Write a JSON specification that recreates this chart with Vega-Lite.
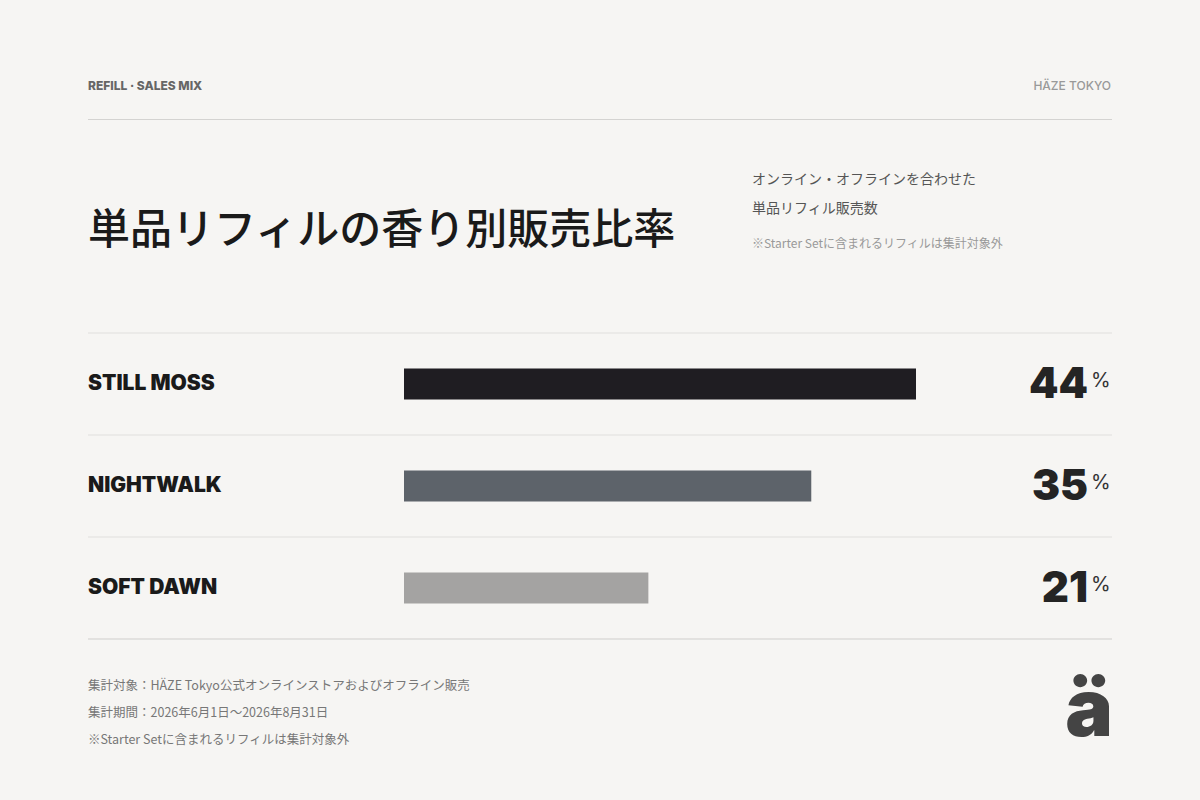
{
  "$schema": "https://vega.github.io/schema/vega-lite/v6.json",
  "width": 1200,
  "height": 800,
  "autosize": {"type": "fit", "contains": "padding"},
  "padding": 0,
  "background": "#f6f5f3",
  "config": {"view": {"stroke": null}},
  "data": {
    "values": [
      {"name": "STILL MOSS", "pct": 44},
      {"name": "NIGHTWALK", "pct": 35},
      {"name": "SOFT DAWN", "pct": 21}
    ]
  },
  "encoding": {
    "y": {
      "field": "name",
      "type": "nominal",
      "sort": null,
      "axis": null,
      "scale": {"type": "band", "domain": ["STILL MOSS", "NIGHTWALK", "SOFT DAWN"], "range": [333, 639], "paddingInner": 0, "paddingOuter": 0}
    }
  },
  "layer": [
    {
      "mark": {"type": "rule", "color": "#e0dfdd", "strokeWidth": 1},
      "encoding": {
        "y": {"field": "name", "type": "nominal", "bandPosition": 0},
        "x": {"value": 88},
        "x2": {"value": 1112}
      }
    },
    {
      "mark": {"type": "rule", "color": "#e0dfdd", "strokeWidth": 1},
      "encoding": {
        "y": {"datum": "SOFT DAWN", "type": "nominal", "bandPosition": 1},
        "x": {"value": 88},
        "x2": {"value": 1112}
      }
    },
    {
      "mark": {"type": "bar", "height": 31},
      "encoding": {
        "x": {"field": "pct", "type": "quantitative", "axis": null, "scale": {"domain": [0, 44], "range": [404, 916], "zero": true, "nice": false}},
        "color": {
          "field": "name",
          "type": "nominal",
          "legend": null,
          "scale": {"domain": ["STILL MOSS", "NIGHTWALK", "SOFT DAWN"], "range": ["#1f1d22", "#5d636a", "#a4a3a2"]}
        }
      }
    },
    {
      "mark": {"type": "text", "align": "left", "baseline": "middle", "font": "Inter", "fontWeight": 900, "fontSize": 21, "color": "#1a1a1a", "dy": 0},
      "encoding": {
        "text": {"field": "name"},
        "x": {"value": 88}
      }
    },
    {
      "mark": {"type": "text", "align": "right", "baseline": "middle", "font": "Inter", "fontWeight": 900, "fontSize": 42, "color": "#242424", "dy": 1},
      "encoding": {
        "text": {"field": "pct", "type": "quantitative"},
        "x": {"value": 1088}
      }
    },
    {
      "mark": {"type": "text", "align": "left", "baseline": "middle", "font": "Inter", "fontWeight": 400, "fontSize": 20, "color": "#333333", "dy": -3, "text": "%"},
      "encoding": {
        "x": {"value": 1091}
      }
    },
    {
      "data": {"values": [{"t": "REFILL · SALES MIX"}]},
      "mark": {"type": "text", "align": "left", "baseline": "middle", "font": "Inter", "fontWeight": 800, "fontSize": 12, "color": "#666666"},
      "encoding": {"text": {"field": "t"}, "x": {"value": 88}, "y": {"value": 86}}
    },
    {
      "data": {"values": [{"t": "HÄZE TOKYO"}]},
      "mark": {"type": "text", "align": "right", "baseline": "middle", "font": "Inter", "fontWeight": 500, "fontSize": 12, "color": "#999999"},
      "encoding": {"text": {"field": "t"}, "x": {"value": 1111}, "y": {"value": 86}}
    },
    {
      "data": {"values": [{"t": "rule"}]},
      "mark": {"type": "rule", "color": "#d4d3d1", "strokeWidth": 1},
      "encoding": {"x": {"value": 88}, "x2": {"value": 1112}, "y": {"value": 119.5}}
    },
    {
      "data": {"values": [{"t": "単品リフィルの香り別販売比率"}]},
      "mark": {"type": "text", "align": "left", "baseline": "middle", "font": "Noto Sans CJK JP", "fontWeight": 500, "fontSize": 42, "color": "#1a1a1a"},
      "encoding": {"text": {"field": "t"}, "x": {"value": 88}, "y": {"value": 231}}
    },
    {
      "data": {"values": [{"t": "オンライン・オフラインを合わせた"}]},
      "mark": {"type": "text", "align": "left", "baseline": "middle", "font": "Noto Sans CJK JP", "fontWeight": 400, "fontSize": 14, "color": "#555555"},
      "encoding": {"text": {"field": "t"}, "x": {"value": 752}, "y": {"value": 180}}
    },
    {
      "data": {"values": [{"t": "単品リフィル販売数"}]},
      "mark": {"type": "text", "align": "left", "baseline": "middle", "font": "Noto Sans CJK JP", "fontWeight": 400, "fontSize": 14, "color": "#555555"},
      "encoding": {"text": {"field": "t"}, "x": {"value": 752}, "y": {"value": 209}}
    },
    {
      "data": {"values": [{"t": "※Starter Setに含まれるリフィルは集計対象外"}]},
      "mark": {"type": "text", "align": "left", "baseline": "middle", "font": "Noto Sans CJK JP", "fontWeight": 400, "fontSize": 12, "color": "#999999"},
      "encoding": {"text": {"field": "t"}, "x": {"value": 752}, "y": {"value": 244}}
    },
    {
      "data": {"values": [{"t": "集計対象：HÄZE Tokyo公式オンラインストアおよびオフライン販売"}]},
      "mark": {"type": "text", "align": "left", "baseline": "middle", "font": "Noto Sans CJK JP", "fontWeight": 400, "fontSize": 12.5, "color": "#777777"},
      "encoding": {"text": {"field": "t"}, "x": {"value": 88}, "y": {"value": 686}}
    },
    {
      "data": {"values": [{"t": "集計期間：2026年6月1日〜2026年8月31日"}]},
      "mark": {"type": "text", "align": "left", "baseline": "middle", "font": "Noto Sans CJK JP", "fontWeight": 400, "fontSize": 12.5, "color": "#777777"},
      "encoding": {"text": {"field": "t"}, "x": {"value": 88}, "y": {"value": 713}}
    },
    {
      "data": {"values": [{"t": "※Starter Setに含まれるリフィルは集計対象外"}]},
      "mark": {"type": "text", "align": "left", "baseline": "middle", "font": "Noto Sans CJK JP", "fontWeight": 400, "fontSize": 12.5, "color": "#777777"},
      "encoding": {"text": {"field": "t"}, "x": {"value": 88}, "y": {"value": 740}}
    },
    {
      "data": {"values": [{"t": "ä"}]},
      "mark": {"type": "text", "align": "right", "baseline": "alphabetic", "font": "Inter", "fontWeight": 900, "fontSize": 80, "color": "#444444"},
      "encoding": {"text": {"field": "t"}, "x": {"value": 1113}, "y": {"value": 736}}
    }
  ]
}
